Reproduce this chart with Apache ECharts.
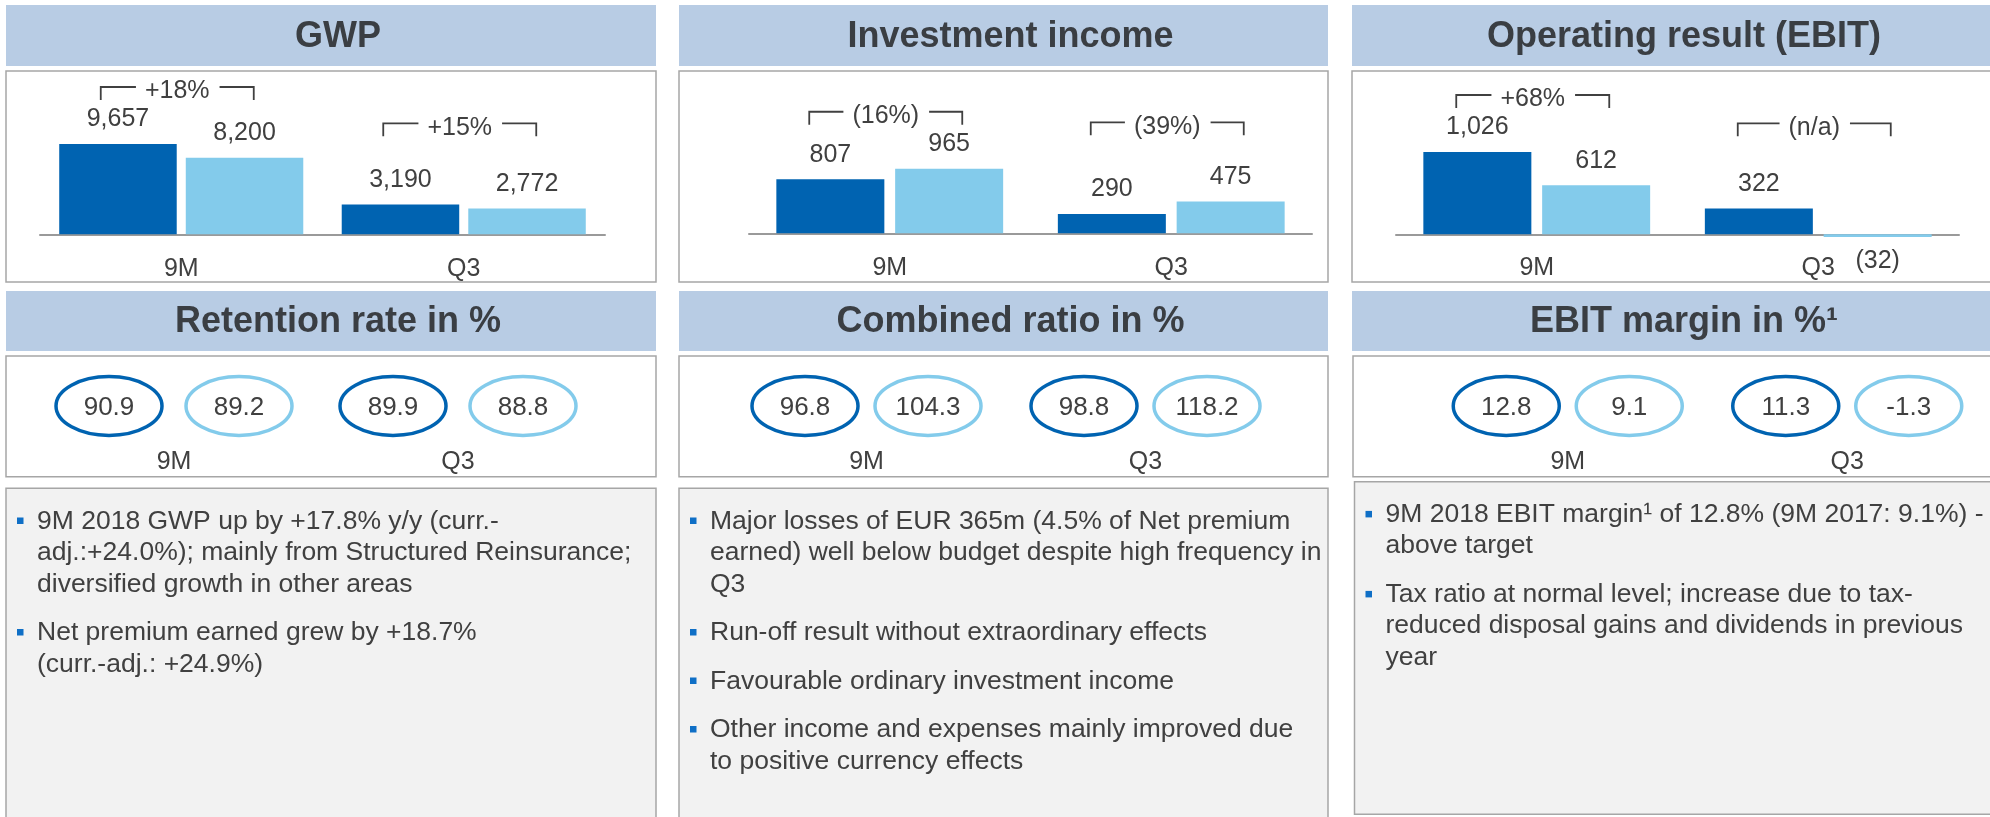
<!DOCTYPE html>
<html>
<head>
<meta charset="utf-8">
<script src="https://cdn.jsdelivr.net/npm/echarts@6/dist/echarts.min.js"></script>
<style>
  html, body { margin: 0; padding: 0; background: #fff; }
  #chart { width: 1990px; height: 817px; }
</style>
</head>
<body>
<div id="chart"></div>
<script>
// data
const periods = ['9M', 'Q3'];

const gwp2018 = [9657, 3190];
const gwp2017 = [8200, 2772];
const gwpChange = ['+18%', '+15%'];

const inv2018 = [807, 290];
const inv2017 = [965, 475];
const invChange = ['(16%)', '(39%)'];

const ebit2018 = [1026, 322];
const ebit2017 = [612, -32];
const ebitChange = ['+68%', '(n/a)'];

const retention2018 = [90.9, 89.9];
const retention2017 = [89.2, 88.8];
const combined2018 = [96.8, 98.8];
const combined2017 = [104.3, 118.2];
const margin2018 = [12.8, 11.3];
const margin2017 = [9.1, -1.3];

const topTitles = ['GWP', 'Investment income', 'Operating result (EBIT)'];
const midTitles = ['Retention rate in %', 'Combined ratio in %', 'EBIT margin in %\u00b9'];

const notes = [
  [
    ['9M 2018 GWP up by +17.8% y/y (curr.-', 'adj.:+24.0%); mainly from Structured Reinsurance;', 'diversified growth in other areas'],
    ['Net premium earned grew by +18.7%', '(curr.-adj.: +24.9%)']
  ],
  [
    ['Major losses of EUR 365m (4.5% of Net premium', 'earned) well below budget despite high frequency in', 'Q3'],
    ['Run-off result without extraordinary effects'],
    ['Favourable ordinary investment income'],
    ['Other income and expenses mainly improved due', 'to positive currency effects']
  ],
  [
    ['9M 2018 EBIT margin\u00b9 of 12.8% (9M 2017: 9.1%) -', 'above target'],
    ['Tax ratio at normal level; increase due to tax-', 'reduced disposal gains and dividends in previous', 'year']
  ]
];

// style
const FONT = '"Liberation Sans", Arial, Helvetica, sans-serif';
const DARK = '#0063b1';
const LIGHT = '#83cbeb';
const TXT = '#404040';
const HEAD_BG = '#b8cce4';
const BORDER = '#a6a6a6';

const cols = [
  { x: 6, w: 650 },
  { x: 679, w: 649 },
  { x: 1352, w: 650 }
];
const noteBoxes = [
  { x: 6, y: 488.3, w: 650, h: 345 },
  { x: 679, y: 488.3, w: 649, h: 345 },
  { x: 1354.5, y: 481.7, w: 650, h: 332.6 }
];

const chart = echarts.init(document.getElementById('chart'));

const fmtInt = v => (v < 0 ? '(' + Math.abs(v).toLocaleString('en-US') + ')' : v.toLocaleString('en-US'));
const fmtPct = v => v.toFixed(1);

const barGrids = [
  { left: 40, top: 70.7, width: 565, height: 163.6 },
  { left: 749, top: 72.7, width: 563, height: 160.6 },
  { left: 1396, top: 81.9, width: 563, height: 184.5 }
];
const barRanges = [[0, 17500], [0, 2400], [-400, 1900]];
const barWidths = [117.5, 108, 108];
// labels sit under the zero line, not under the grid bottom
const labelMargins = [22, 22, -11];
const barSets = [[gwp2018, gwp2017], [inv2018, inv2017], [ebit2018, ebit2017]];
const changes = [gwpChange, invChange, ebitChange];

const ellGrids = [
  { left: 32, top: 375, width: 568, height: 62 },
  { left: 727, top: 375, width: 558, height: 62 },
  { left: 1428, top: 375, width: 559, height: 62 }
];
const ellOffsets = [65, 61.5, 61.5];
const ellSets = [[retention2018, retention2017], [combined2018, combined2017], [margin2018, margin2017]];

const grids = [], xAxes = [], yAxes = [], series = [];

barGrids.forEach((g, i) => {
  grids.push(g);
  xAxes.push({
    type: 'category', gridIndex: i, data: periods,
    axisTick: { show: false },
    axisLine: { onZero: true, lineStyle: { color: '#9a9a9a', width: 2 } },
    axisLabel: { margin: labelMargins[i], fontSize: 25, fontFamily: FONT, color: TXT }
  });
  yAxes.push({ type: 'value', gridIndex: i, min: barRanges[i][0], max: barRanges[i][1], show: false, splitLine: { show: false } });
  barSets[i].forEach((vals, k) => {
    series.push({
      type: 'bar', xAxisIndex: i, yAxisIndex: i,
      data: vals,
      barWidth: barWidths[i],
      barGap: i === 0 ? '7.7%' : '10%',
      itemStyle: { color: k === 0 ? DARK : LIGHT },
      label: {
        show: true, position: 'outside', distance: 12,
        fontSize: 25, fontFamily: FONT, color: TXT,
        formatter: p => fmtInt(p.value)
      },
      emphasis: { disabled: true },
      animation: false
    });
  });
});

ellGrids.forEach((g, j) => {
  const i = j + 3;
  grids.push(g);
  xAxes.push({
    type: 'category', gridIndex: i, data: periods,
    axisTick: { show: false }, axisLine: { show: false },
    axisLabel: { margin: 12.5, fontSize: 25, fontFamily: FONT, color: TXT }
  });
  yAxes.push({ type: 'value', gridIndex: i, min: 0, max: 1, show: false, splitLine: { show: false } });
  ellSets[j].forEach((vals, k) => {
    const side = k === 0 ? -1 : 1;
    series.push({
      type: 'custom', xAxisIndex: i, yAxisIndex: i,
      data: vals.map((v, c) => [c, v]),
      animation: false,
      renderItem: (params, api) => {
        const cs = params.coordSys;
        const cx = api.coord([api.value(0), 0])[0] + side * ellOffsets[j];
        const cy = cs.y + cs.height / 2;
        return {
          type: 'group',
          children: [
            { type: 'ellipse', shape: { cx: cx, cy: cy, rx: 53, ry: 29.4 },
              style: { fill: '#fff', stroke: k === 0 ? DARK : LIGHT, lineWidth: 3.5 } },
            { type: 'text', style: { text: fmtPct(api.value(1)), x: cx, y: cy + 1.5,
              align: 'center', verticalAlign: 'middle', font: '26px ' + FONT, fill: TXT } }
          ]
        };
      }
    });
  });
});

chart.setOption({
  animation: false,
  grid: grids,
  xAxis: xAxes,
  yAxis: yAxes,
  series: series
});

// static panels
const graphics = [];
cols.forEach((c, i) => {
  graphics.push({ type: 'rect', shape: { x: c.x, y: 5, width: c.w, height: 61 }, style: { fill: HEAD_BG }, z: -10 });
  graphics.push({ type: 'rect', shape: { x: c.x, y: 71, width: c.w, height: 211 }, style: { fill: '#fff', stroke: BORDER, lineWidth: 1.5 }, z: -10 });
  graphics.push({ type: 'rect', shape: { x: c.x, y: 291, width: c.w, height: 60 }, style: { fill: HEAD_BG }, z: -10 });
  graphics.push({ type: 'rect', shape: { x: c.x + (i === 2 ? 1 : 0), y: 356, width: c.w, height: 120.7 }, style: { fill: '#fff', stroke: BORDER, lineWidth: 1.5 }, z: -10 });
  graphics.push({ type: 'text', style: { text: topTitles[i], x: c.x + c.w / 2 + 7, y: 37.5, align: 'center', verticalAlign: 'middle',
    font: 'bold 36px ' + FONT, fill: '#3a3e43' } });
  graphics.push({ type: 'text', style: { text: midTitles[i], x: c.x + c.w / 2 + 7, y: 322.5, align: 'center', verticalAlign: 'middle',
    font: 'bold 36px ' + FONT, fill: '#3a3e43' } });
});

const LINE_H = 31.5;
noteBoxes.forEach((b, i) => {
  graphics.push({ type: 'rect', shape: { x: b.x, y: b.y, width: b.w, height: b.h }, style: { fill: '#f2f2f2', stroke: BORDER, lineWidth: 1.5 }, z: -10 });
  let baseY = b.y + 42.4;
  notes[i].forEach(lines => {
    graphics.push({ type: 'rect', shape: { x: b.x + 11, y: baseY - 13.2, width: 6.5, height: 6.5 }, style: { fill: '#0f6fc6' } });
    graphics.push({ type: 'text', style: { text: lines.join('\n'), x: b.x + 31, y: baseY - 25.2, lineHeight: LINE_H,
      align: 'left', verticalAlign: 'top', font: '26.5px ' + FONT, fill: TXT } });
    baseY += lines.length * LINE_H + 17;
  });
});

// change brackets over each bar pair
const ctx = document.createElement('canvas').getContext('2d');
ctx.font = '25px ' + FONT;
barSets.forEach((pair, g) => {
  periods.forEach((p, c) => {
    const base = chart.convertToPixel({ gridIndex: g }, [c, 0]);
    const topA = chart.convertToPixel({ gridIndex: g }, [c, pair[0][c]])[1];
    const topB = chart.convertToPixel({ gridIndex: g }, [c, pair[1][c]])[1];
    const top = Math.min(topA, topB, base[1]);
    const lineY = Math.min(top - 57, base[1] - 111);
    const cx = base[0] - 4;
    const half = 76.5;
    const label = changes[g][c];
    const tw = ctx.measureText(label).width;
    const lineStyle = { stroke: '#404040', lineWidth: 1.8, fill: null };
    graphics.push({ type: 'polyline', shape: { points: [[cx - half, lineY + 13], [cx - half, lineY], [cx - tw / 2 - 9, lineY]] }, style: lineStyle });
    graphics.push({ type: 'polyline', shape: { points: [[cx + tw / 2 + 10, lineY], [cx + half, lineY], [cx + half, lineY + 13]] }, style: lineStyle });
    graphics.push({ type: 'text', style: { text: label, x: cx, y: lineY + 4.5, align: 'center', verticalAlign: 'middle',
      font: '25px ' + FONT, fill: TXT } });
  });
});

chart.setOption({ graphic: graphics });

window.addEventListener('resize', () => chart.resize());
</script>
</body>
</html>
